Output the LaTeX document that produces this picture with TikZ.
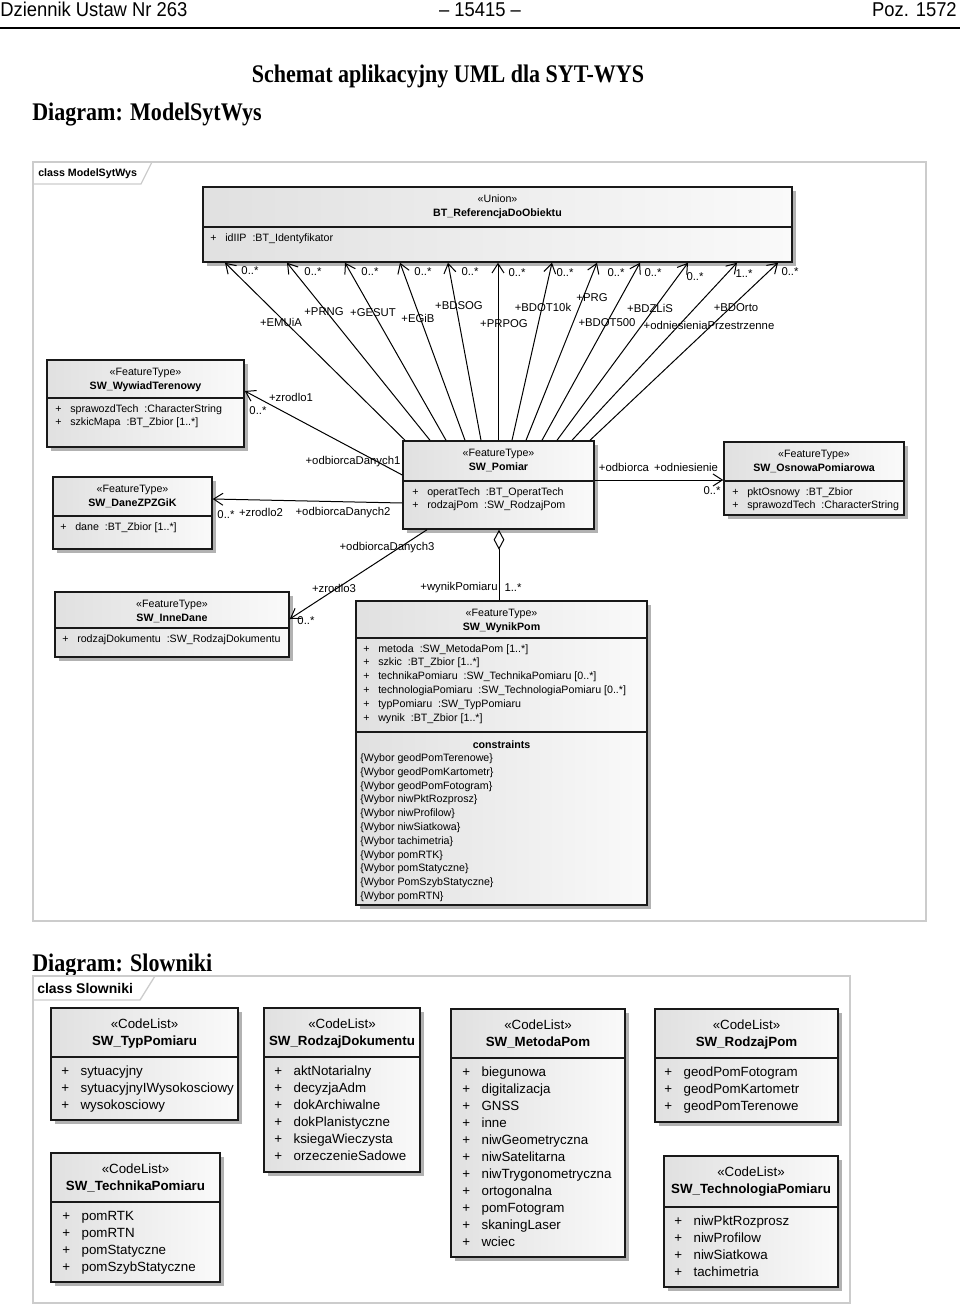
\documentclass[tikz,border=0pt]{standalone}
\usepackage{fontspec}
\setmainfont{Liberation Sans}
\newfontfamily\titlefont[FakeStretch=0.87]{Liberation Serif}
\newfontfamily\headfont[FakeStretch=0.92]{Liberation Sans}
\usetikzlibrary{arrows.meta,shadows,fit}

\newcommand{\attrm}[1]{\makebox[11.25pt][l]{+}#1}
\newcommand{\attrl}[1]{\makebox[14.5pt][l]{+}#1}

\tikzset{
  headtxt/.style={font=\headfont\fontsize{15}{18}\selectfont, inner sep=0pt},
  titletxt/.style={font=\titlefont\bfseries\fontsize{19}{22}\selectfont, inner sep=0pt},
  frame/.style={draw=gray!40, line width=1pt},
  cls/.style={draw=black!90, line width=1.1pt, left color=gray!24, right color=gray!4,
    inner sep=0pt, drop shadow={shadow xshift=3pt, shadow yshift=-3pt, fill=black!60}},
  sepline/.style={draw=black!90, line width=1.1pt},
  stereo/.style={font=\fontsize{8}{10}\selectfont, inner sep=0pt, anchor=base},
  clsname/.style={font=\bfseries\fontsize{8}{10}\selectfont, inner sep=0pt, anchor=base},
  attrline/.style={font=\fontsize{8}{10}\selectfont, inner sep=0pt, anchor=base west},
  lstereo/.style={font=\fontsize{10}{12}\selectfont, inner sep=0pt, anchor=base},
  lname/.style={font=\bfseries\fontsize{10}{12}\selectfont, inner sep=0pt, anchor=base},
  lattrline/.style={font=\fontsize{10}{12}\selectfont, inner sep=0pt, anchor=base west},
  lbl/.style={font=\fontsize{8.5}{10}\selectfont, inner sep=0pt},
  assoc/.style={line width=0.75pt, -{Straight Barb[length=7pt,width=9pt]}},
  aggr/.style={line width=0.75pt, {Diamond[open,length=15pt,width=8pt]}-},
}

\begin{document}
\begin{tikzpicture}[x=0.75pt,y=-0.75pt]
  \useasboundingbox (0,0) rectangle (960,1306);

  \node[headtxt, anchor=base west] (pghead) at (0,17) {Dziennik Ustaw Nr 263};
  \node[headtxt, anchor=base] (pgnum) at (480,17) {– 15415 –};
  \node[headtxt, anchor=base east] (pgpoz) at (957,17) {Poz. 1572};
  \draw[line width=2pt] (0,28) -- (960,28);

  \node[titletxt, anchor=base] (title) at (448,83) {Schemat aplikacyjny UML dla SYT-WYS};
  \node[titletxt, anchor=base west] (dgmodel) at (32,120) {Diagram: ModelSytWys};

  \draw[frame] (33,162) rectangle (926,921);
  \draw[frame] (33,184) -- (141,184) -- (152,162);
  \node[attrline, font=\bfseries\fontsize{8}{10}\selectfont] (tabmodel) at (38,176) {class ModelSytWys};

  \foreach \id/\st/\nm/\xa/\ya/\xb/\yb/\ys/\px/\items in {
    union/Union/BT\_ReferencjaDoObiektu/203/187/792/262/227/210/{idIIP~ :BT\_Identyfikator},
    wywiad/FeatureType/SW\_WywiadTerenowy/47/360/244/447/398/55/{sprawozdTech~ :CharacterString, szkicMapa~ :BT\_Zbior [1..*]},
    dane/FeatureType/SW\_DaneZPZGiK/53/477/212/549/516/60/{dane~ :BT\_Zbior [1..*]},
    pomiar/FeatureType/SW\_Pomiar/403/441/594/529/481/412/{operatTech~ :BT\_OperatTech, rodzajPom~ :SW\_RodzajPom},
    osnowa/FeatureType/SW\_OsnowaPomiarowa/724/442/904/515/481/732/{pktOsnowy~ :BT\_Zbior, sprawozdTech~ :CharacterString},
    inne/FeatureType/SW\_InneDane/55/592/289/657/628/62/{rodzajDokumentu~ :SW\_RodzajDokumentu},
    wynik/FeatureType/SW\_WynikPom/356/601/647/905/638/363/{metoda~ :SW\_MetodaPom [1..*], szkic~ :BT\_Zbior [1..*], technikaPomiaru~ :SW\_TechnikaPomiaru [0..*], technologiaPomiaru~ :SW\_TechnologiaPomiaru [0..*], typPomiaru~ :SW\_TypPomiaru, wynik~ :BT\_Zbior [1..*]}}
  {
    \node[cls, fit={(\xa,\ya) (\xb,\yb)}] (\id) {};
    \draw[sepline] (\id.west |- 0,\ys) -- (\id.east |- 0,\ys);
    \node[stereo] (\id-st) at (\id.north |- 0,\ya+15.5) {«\st»};
    \node[clsname] (\id-nm) at (\id.north |- 0,\ya+29.5) {\nm};
    \foreach \t [count=\k] in \items
      \node[attrline] (\id-a\k) at (\px,{\ys+14+13.8*(\k-1)}) {\attrm{\t}};
  }

  \draw[sepline] (wynik.west |- 0,732) -- (wynik.east |- 0,732);
  \node[clsname] (wynik-cn) at (wynik.north |- 0,748.5) {constraints};
  \foreach \t [count=\k] in {\{Wybor geodPomTerenowe\}, \{Wybor geodPomKartometr\}, \{Wybor geodPomFotogram\}, \{Wybor niwPktRozprosz\}, \{Wybor niwProfilow\}, \{Wybor niwSiatkowa\}, \{Wybor tachimetria\}, \{Wybor pomRTK\}, \{Wybor pomStatyczne\}, \{Wybor PomSzybStatyczne\}, \{Wybor pomRTN\}}
    \node[attrline] (wynik-c\k) at (360,{761.5+13.8*(\k-1)}) {\t};

  \foreach \ux/\bx/\mx/\my/\role/\rx/\ry/\mul [count=\i] in {
    225/405/250/271/EMUiA/281/322/0..*,
    287/430/313/272/PRNG/324/312/0..*,
    345/446/370/272/GESUT/373/313/0..*,
    400/465/423/272/EGiB/418/318/0..*,
    448/481/470/272/BDSOG/459/306/0..*,
    498/498/517/273/PRPOG/504/324/0..*,
    552/512/565/273/BDOT10k/543/307/0..*,
    597/526/616/273/PRG/592/298/0..*,
    640/542/653/273/BDOT500/607/323/0..*,
    688/557/695/277/BDZLiS/650/308/0..*,
    737/572/744/274/odniesieniaPrzestrzenne/709/325/1..*,
    778/590/790/272/BDOrto/736/308/0..*}
  {
    \draw[assoc] (pomiar.north -| \bx,0) -- (union.south -| \ux,0);
    \node[lbl] (mul\i) at (\mx,\my) {\mul};
    \node[lbl] (role\i) at (\rx,\ry) {+\role};
  }

  \draw[assoc] (pomiar.west |- 0,475) -- (wywiad.east |- 0,391);
  \node[lbl] (zr1) at (291,397) {+zrodlo1};
  \node[lbl] (zr1m) at (258,411) {0..*};
  \node[lbl] (od1) at (353,462) {+odbiorcaDanych1};

  \draw[assoc] (pomiar.west |- 0,503) -- (dane.east |- 0,499);
  \node[lbl] (zr2m) at (226,515) {0..*};
  \node[lbl] (zr2) at (261,512) {+zrodlo2};
  \node[lbl] (od2) at (343,513) {+odbiorcaDanych2};

  \draw[assoc] (pomiar.south -| 427,0) -- (inne.east |- 0,619);
  \node[lbl] (zr3) at (334,588) {+zrodlo3};
  \node[lbl] (zr3m) at (306,621) {0..*};
  \node[lbl] (od3) at (387,548) {+odbiorcaDanych3};

  \draw[assoc] (pomiar.east |- 0,480) -- (osnowa.west |- 0,480);
  \node[lbl] (odb) at (624,467) {+odbiorca};
  \node[lbl] (odn) at (686,467) {+odniesienie};
  \node[lbl] (odnm) at (712,491) {0..*};

  \draw[aggr] (pomiar.south -| 499,0) -- (wynik.north -| 499,0);
  \node[lbl] (wyn) at (459,588) {+wynikPomiaru};
  \node[lbl] (wynm) at (513,588) {1..*};

  \node[titletxt, anchor=base west] (dgslow) at (32,971) {Diagram: Slowniki};
  \draw[frame] (33,976) rectangle (850,1303);
  \draw[frame] (33,1000) -- (140,1000) -- (155,976);
  \node[lattrline, font=\bfseries\fontsize{10.5}{12}\selectfont] (tabslow) at (37,993.5) {class Slowniki};

  \foreach \id/\nm/\xa/\ya/\xb/\yb/\ys/\px/\items in {
    typ/SW\_TypPomiaru/51/1008/238/1120/1057/61/{sytuacyjny, sytuacyjnyIWysokosciowy, wysokosciowy},
    rdok/SW\_RodzajDokumentu/264/1008/420/1172/1057/274/{aktNotarialny, decyzjaAdm, dokArchiwalne, dokPlanistyczne, ksiegaWieczysta, orzeczenieSadowe},
    metoda/SW\_MetodaPom/451/1009/625/1257/1058/462/{biegunowa, digitalizacja, GNSS, inne, niwGeometryczna, niwSatelitarna, niwTrygonometryczna, ortogonalna, pomFotogram, skaningLaser, wciec},
    rpom/SW\_RodzajPom/655/1009/838/1122/1058/664/{geodPomFotogram, geodPomKartometr, geodPomTerenowe},
    technika/SW\_TechnikaPomiaru/51/1153/220/1282/1202/62/{pomRTK, pomRTN, pomStatyczne, pomSzybStatyczne},
    technologia/SW\_TechnologiaPomiaru/664/1156/838/1287/1207/674/{niwPktRozprosz, niwProfilow, niwSiatkowa, tachimetria}}
  {
    \node[cls, fit={(\xa,\ya) (\xb,\yb)}] (\id) {};
    \draw[sepline] (\id.west |- 0,\ys) -- (\id.east |- 0,\ys);
    \node[lstereo] (\id-st) at (\id.north |- 0,\ya+20) {«CodeList»};
    \node[lname] (\id-nm) at (\id.north |- 0,\ya+37) {\nm};
    \foreach \t [count=\k] in \items
      \node[lattrline] (\id-a\k) at (\px,{\ys+18+17*(\k-1)}) {\attrl{\t}};
  }
\end{tikzpicture}
\end{document}
